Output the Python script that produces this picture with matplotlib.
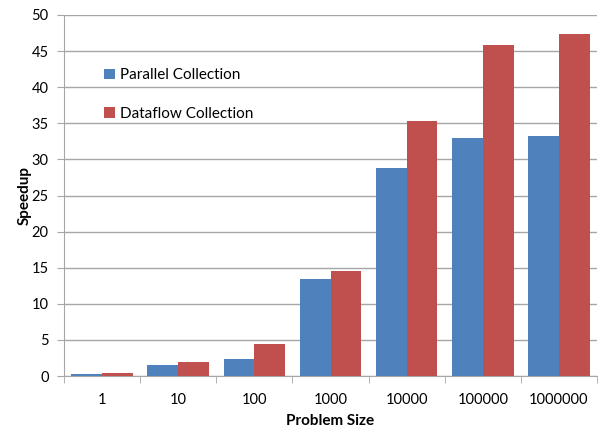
import numpy as np
import matplotlib
matplotlib.use('Agg')
import matplotlib.pyplot as plt

plt.rcParams['font.family'] = ['Lato', 'DejaVu Sans']

# data
sizes = ['1', '10', '100', '1000', '10000', '100000', '1000000']
parallel = [0.23, 1.57, 2.4, 13.4, 28.8, 33.0, 33.3]
dataflow = [0.37, 1.94, 4.4, 14.5, 35.3, 45.9, 47.3]

blue = '#4F81BD'
red = '#C0504D'
grey = '#A6A6A6'

fig = plt.figure(figsize=(5.98, 4.28), dpi=100)
ax = fig.add_axes([64 / 598, 1 - 376 / 428, 533 / 598, 361 / 428])

x = np.arange(len(sizes))
w = 0.405
ax.bar(x - w / 2, parallel, w, color=blue, label='Parallel Collection', zorder=3)
ax.bar(x + w / 2, dataflow, w, color=red, label='Dataflow Collection', zorder=3)

ax.set_xlim(-0.5, len(sizes) - 0.5)
ax.set_ylim(0, 50)
ax.set_yticks(range(0, 51, 5))
ax.yaxis.grid(True, color=grey, linewidth=1, zorder=0)

ax.set_xticks(x)
ax.set_xticklabels(sizes)
ax.set_xticks(np.arange(-0.5, len(sizes)), minor=True)
ax.tick_params(axis='x', which='major', length=0, pad=12, labelsize=10.5)
ax.tick_params(axis='x', which='minor', length=5, color=grey, direction='out')
ax.tick_params(axis='y', length=5, color=grey, labelsize=10.5, pad=6)

for s in ['top', 'right']:
    ax.spines[s].set_visible(False)
for s in ['left', 'bottom']:
    ax.spines[s].set_color(grey)

ax.set_xlabel('Problem Size', fontweight='bold', fontsize=11, labelpad=5)
ax.set_ylabel('Speedup', fontweight='bold', fontsize=11, labelpad=0)

ax.legend(loc='upper left', bbox_to_anchor=(0.05, 0.89), frameon=False,
          fontsize=11, handlelength=0.7, handleheight=0.7, handletextpad=0.3,
          labelspacing=1.6)

fig.savefig('out.png', dpi=100)
